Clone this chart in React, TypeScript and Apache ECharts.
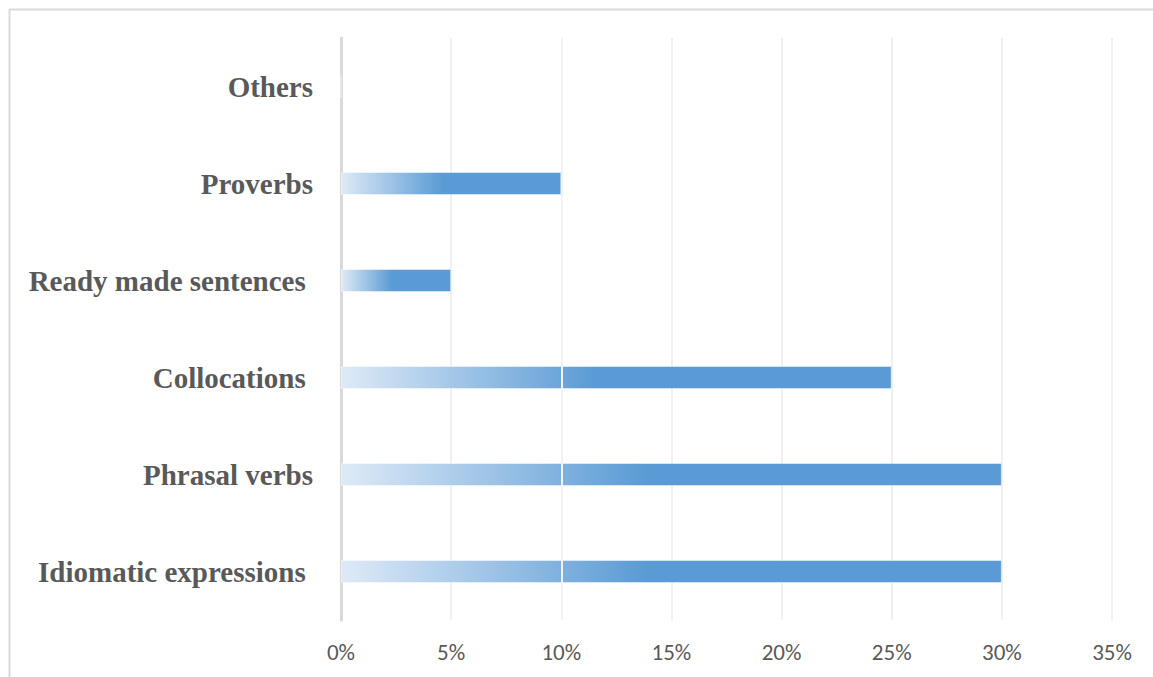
import React, { useEffect, useRef } from "react";
import * as echarts from "echarts";

const categories = [
  "Idiomatic expressions ",
  "Phrasal verbs",
  "Collocations ",
  "Ready made sentences ",
  "Proverbs",
  "Others",
];
const values = [30, 30, 25, 5, 10, 0];
const xTicks = { min: 0, max: 35, interval: 5 };
const highlightLine = 10;

export default function App() {
  const ref = useRef<HTMLDivElement>(null);
  useEffect(() => {
    if (!ref.current) return;
    const chart = echarts.init(ref.current, null, { renderer: "svg" });
    const gradient = new echarts.graphic.LinearGradient(0, 0, 1, 0, [
      { offset: 0, color: "#deeaf7" },
      { offset: 0.46, color: "#5b9bd5" },
      { offset: 1, color: "#5b9bd5" },
    ]);
    chart.setOption({
      animation: false,
      backgroundColor: "#ffffff",
      grid: { left: 341, right: 41, top: 38, bottom: 57, containLabel: false },
      graphic: [
        {
          type: "line",
          shape: { x1: 9.5, y1: 9, x2: 9.5, y2: 677 },
          style: { stroke: "#d9d9d9", lineWidth: 2 },
        },
        {
          type: "line",
          shape: { x1: 9, y1: 9.5, x2: 1153, y2: 9.5 },
          style: { stroke: "#d9d9d9", lineWidth: 2 },
        },
      ],
      xAxis: {
        type: "value",
        min: xTicks.min,
        max: xTicks.max,
        interval: xTicks.interval,
        axisLine: { show: false },
        axisTick: { show: false },
        splitLine: { show: true, lineStyle: { color: "#f0f0f0", width: 2 } },
        axisLabel: {
          formatter: (v: number) => `${v}%`,
          color: "#595959",
          fontSize: 23,
          fontFamily: "'Liberation Sans Narrow', Carlito, 'Open Sans', sans-serif",
          margin: 20,
        },
      },
      yAxis: {
        type: "category",
        data: categories,
        axisLine: { show: true, lineStyle: { color: "#d9d9d9", width: 3 } },
        axisTick: { show: false },
        splitLine: { show: false },
        axisLabel: {
          color: "#595959",
          fontSize: 29,
          fontWeight: "bold",
          fontFamily: "'Liberation Serif', 'Times New Roman', serif",
          margin: 28,
        },
      },
      series: [
        {
          type: "bar",
          data: values,
          barWidth: 23,
          itemStyle: {
            color: gradient,
            borderColor: "rgba(255,255,255,0.45)",
            borderWidth: 1,
          },
          markLine: {
            silent: true,
            symbol: "none",
            label: { show: false },
            lineStyle: { color: "#f2f2f2", width: 2, type: "solid" },
            data: [{ xAxis: highlightLine }],
          },
        },
      ],
    });
    return () => chart.dispose();
  }, []);
  return (
    <div
      ref={ref}
      style={{ position: "absolute", left: 0, top: 0, width: 1153, height: 677 }}
    />
  );
}
